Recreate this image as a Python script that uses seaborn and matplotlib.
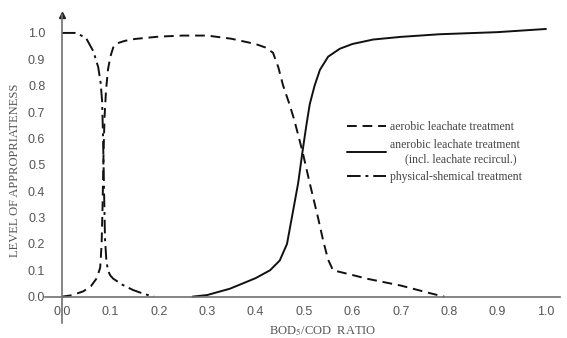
import matplotlib
matplotlib.use("Agg")
import matplotlib.pyplot as plt
import numpy as np
import pandas as pd
import seaborn as sns

# BOD5/COD ratio vs level of appropriateness
aerobic_x = [0.0, 0.02, 0.044, 0.06, 0.072, 0.079, 0.082, 0.084, 0.086, 0.088, 0.091,
             0.095, 0.1, 0.106, 0.113, 0.13, 0.15, 0.2, 0.25, 0.3, 0.35, 0.4, 0.42,
             0.436, 0.447, 0.457, 0.47, 0.48, 0.497, 0.512, 0.529, 0.54, 0.55, 0.56,
             0.6, 0.63, 0.7, 0.767, 0.79]
aerobic_y = [0.0, 0.005, 0.02, 0.04, 0.07, 0.11, 0.2, 0.35, 0.55, 0.68, 0.78,
             0.86, 0.91, 0.945, 0.96, 0.97, 0.977, 0.986, 0.99, 0.99, 0.978, 0.958, 0.945,
             0.925, 0.87, 0.8, 0.73, 0.67, 0.55, 0.43, 0.3, 0.21, 0.14, 0.1,
             0.082, 0.068, 0.042, 0.01, 0.0]

anaerobic_x = [0.27, 0.3, 0.347, 0.4, 0.43, 0.45, 0.465, 0.475, 0.482, 0.488, 0.497,
               0.505, 0.512, 0.522, 0.533, 0.55, 0.574, 0.6, 0.643, 0.7, 0.78, 0.9, 1.0]
anaerobic_y = [0.0, 0.006, 0.03, 0.07, 0.1, 0.137, 0.2, 0.3, 0.37, 0.43, 0.55,
               0.65, 0.73, 0.8, 0.86, 0.91, 0.94, 0.958, 0.975, 0.985, 0.995, 1.003, 1.015]

physchem_x = [0.0, 0.03, 0.05, 0.065, 0.075, 0.08, 0.083, 0.085, 0.087, 0.089, 0.092,
              0.096, 0.1, 0.106, 0.125, 0.147, 0.17, 0.19]
physchem_y = [1.0, 1.0, 0.98, 0.93, 0.87, 0.81, 0.74, 0.6, 0.4, 0.22, 0.13,
              0.095, 0.08, 0.068, 0.045, 0.025, 0.01, 0.0]

labels = ["aerobic leachate treatment",
          "anerobic leachate treatment\n     (incl. leachate recircul.)",
          "physical-shemical treatment"]
styles = [(0, (5, 3)), "-", (0, (7, 2.5, 1.5, 2.5))]

xticks = np.round(np.arange(0, 1.01, 0.1), 1)
yticks = np.round(np.arange(0, 1.01, 0.1), 1)

sns.set_style("white")
plt.rcParams["font.family"] = ["Liberation Sans", "DejaVu Sans"]
plt.rcParams["mathtext.fontset"] = "stix"

fig = plt.figure(figsize=(5.67, 3.38), dpi=100)
ax = fig.add_axes([45 / 567, 15 / 338, 515 / 567, 308 / 338])

series = [(aerobic_x, aerobic_y), (anaerobic_x, anaerobic_y), (physchem_x, physchem_y)]
for (xs, ys), lab, ls in zip(series, labels, styles):
    df = pd.DataFrame({"ratio": xs, "level": ys})
    sns.lineplot(data=df, x="ratio", y="level", ax=ax, color="#111111",
                 linewidth=1.4, linestyle=ls, label=lab)

ax.set_xlim(-0.035, 1.029)
ax.set_ylim(-0.10, 1.068)

gray = "#707070"
for side in ["top", "right"]:
    ax.spines[side].set_visible(False)
ax.spines["left"].set_position(("data", 0))
ax.spines["bottom"].set_position(("data", 0))
for side in ["left", "bottom"]:
    ax.spines[side].set_color(gray)
    ax.spines[side].set_linewidth(1.2)
# arrow head on top of y axis
ax.plot(0, 1, marker="^", color="#222222", markersize=5,
        transform=ax.get_xaxis_transform(), clip_on=False)

ax.set_xticks(xticks)
ax.set_xticklabels([f"{v:.1f}" for v in xticks])
ax.set_yticks(yticks)
ax.set_yticklabels([f"{v:.1f}" for v in yticks])
ax.tick_params(axis="x", direction="in", length=5, width=1.2, color=gray,
               labelcolor="#555555", labelsize=9, pad=7)
ax.tick_params(axis="y", direction="out", length=5, width=1.2, color=gray,
               labelcolor="#555555", labelsize=9, pad=7)

ax.set_xlabel("")
ax.set_ylabel("")
fig.text(323 / 567, 1 - 331 / 338, r"BOD$_5$/COD  RATIO", ha="center", va="center",
         family=["Liberation Serif", "DejaVu Serif"], fontsize=9, color="#555555")
fig.text(15 / 567, 1 - 170 / 338, "LEVEL OF APPROPRIATENESS", ha="center", va="center",
         rotation=90, family=["Liberation Serif", "DejaVu Serif"], fontsize=9,
         color="#555555")

leg = ax.legend(loc="upper left", bbox_to_anchor=(0.566, 0.69), frameon=False,
                prop={"family": ["Liberation Serif", "DejaVu Serif"], "size": 8.5},
                handlelength=3.3, handletextpad=0.3, labelspacing=0.5,
                labelcolor="#444444")

fig.savefig("out.png", dpi=100)
